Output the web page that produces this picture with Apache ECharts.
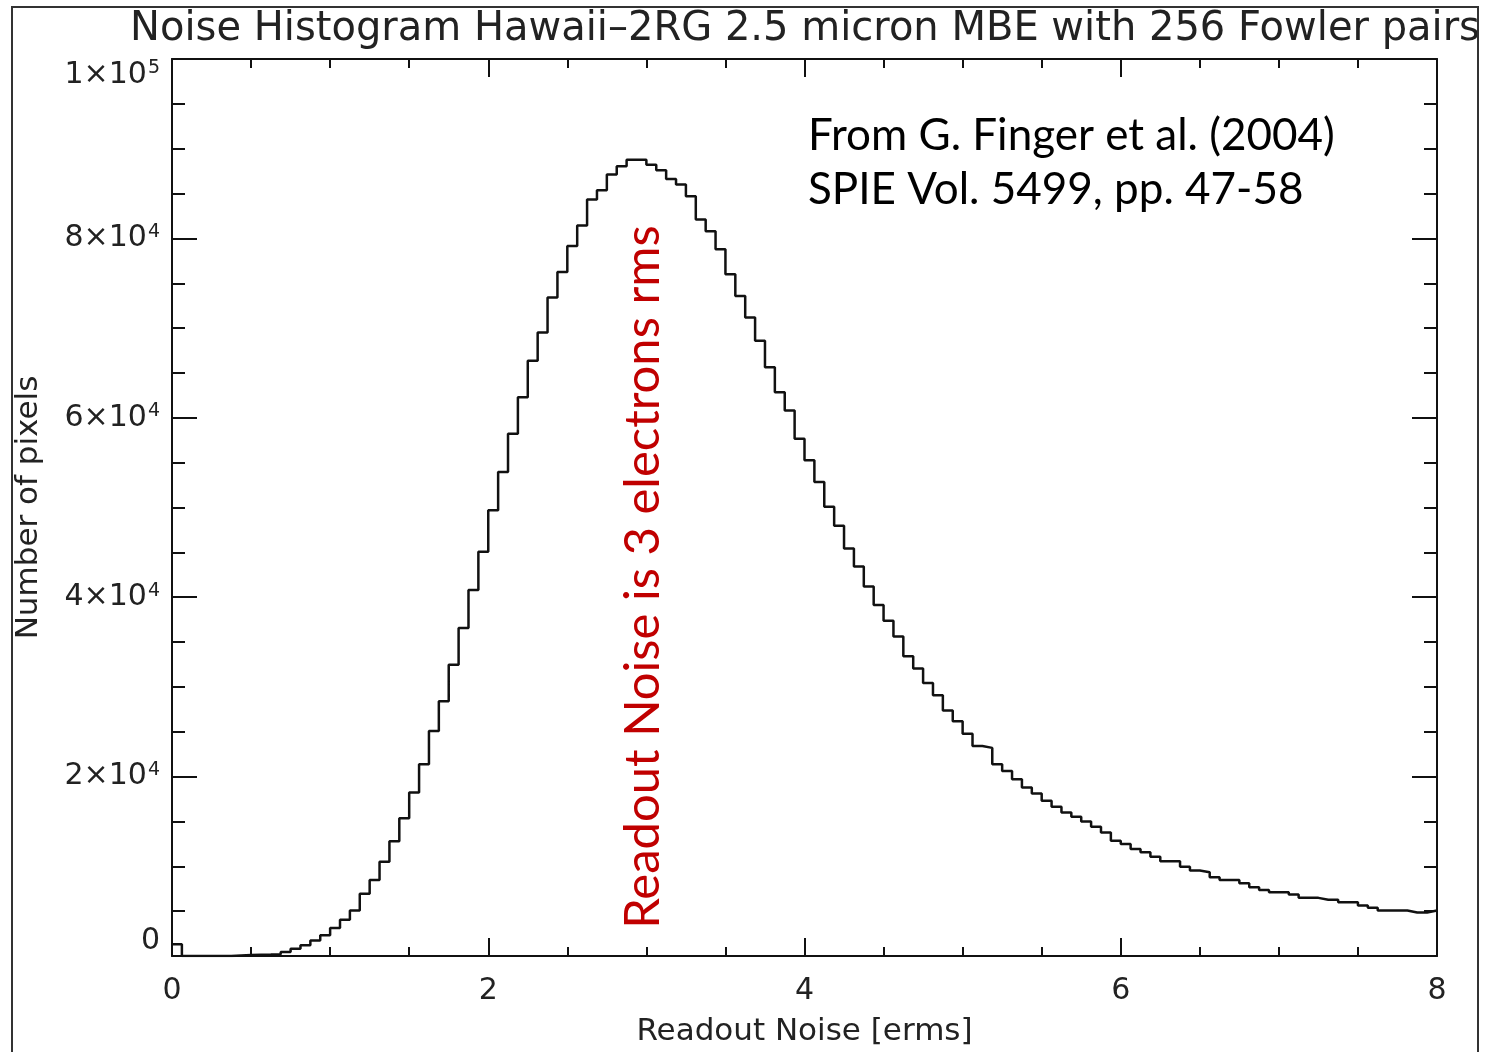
<!DOCTYPE html>
<html><head><meta charset="utf-8">
<script src="https://cdn.jsdelivr.net/npm/echarts@6/dist/echarts.min.js"></script>
<style>html,body{margin:0;padding:0;background:#fff}#c{width:1485px;height:1052px}</style>
</head><body><div id="c"></div>
<script>
// ---- data ----
const binStart = 0;          // erms, left edge of first bin
const binWidth = 0.0625;     // erms
const counts = [
  1300, 0, 0, 0, 0, 0, 60, 100, 130, 160,
  200, 440, 810, 1190, 1740, 2300, 3110, 4040, 5070, 6930,
  8480, 10520, 12780, 15370, 18220, 21370, 25070, 28410, 32480, 36560,
  40810, 45070, 49700, 53960, 58220, 62300, 66370, 69520, 73410, 76260,
  79150, 81440, 84330, 85370, 87110, 88040, 88780, 88780, 88220, 87590,
  86630, 86000, 84700, 82110, 80810, 78780, 76000, 73590, 71190, 68590,
  65630, 62850, 60810, 57670, 55260, 52850, 50080, 47960, 45440, 43410,
  41190, 39140, 37370, 35630, 33410, 32040, 30440, 29080, 27370, 26180,
  24770, 23410, 23200, 21370, 20630, 19700, 18780, 18110, 17300, 16630,
  16000, 15520, 15000, 14400, 13780, 12850, 12480, 11920, 11560, 11070,
  10560, 10560, 9960, 9520, 9330, 8780, 8480, 8480, 8110, 7670,
  7370, 7110, 7110, 6850, 6480, 6480, 6260, 6260, 6000, 6000,
  5630, 5370, 5070, 5070, 5070, 4850, 4850, 5070
];
const yTickValues = [0, 20000, 40000, 60000, 80000, 100000];
const yTickTexts = ['0', '2×10{sup|4}', '4×10{sup|4}', '6×10{sup|4}', '8×10{sup|4}', '1×10{sup|5}'];
const xTickValues = [0, 2, 4, 6, 8];
const titleText = 'Noise Histogram Hawaii\u20132RG 2.5 micron MBE with 256 Fowler pairs';
const xName = 'Readout Noise [erms]';
const yName = 'Number of pixels';
const noteLines = ['From G. Finger et al. (2004)', 'SPIE Vol. 5499, pp. 47-58'];
const redNote = 'Readout Noise is 3 electrons rms';

// ---- build step data (left bin edges, plus closing point) ----
const stepData = counts.map((v, i) => [binStart + i * binWidth, v]);
stepData.push([binStart + counts.length * binWidth, counts[counts.length - 1]]);

const idlFont = 'DejaVu Sans';
const ink = '#222';

const chart = echarts.init(document.getElementById('c'), null, {renderer: 'canvas'});

const axisCommon = {
  axisLine: {show: true, onZero: false, lineStyle: {color: '#111', width: 2}},
  splitLine: {show: false},
};

chart.setOption({
  backgroundColor: '#fff',
  animation: false,
  title: {
    text: titleText,
    left: 800, top: 5, textAlign: 'center',
    textStyle: {fontFamily: idlFont, fontSize: 40, fontWeight: 'normal', color: ink}
  },
  grid: {left: 172, right: 48, top: 59, bottom: 93},
  xAxis: [
    Object.assign({
      type: 'value', position: 'bottom', min: 0, max: 8, interval: 2,
      axisTick: {show: true, inside: true, length: 18, lineStyle: {color: '#111', width: 2}},
      minorTick: {show: true, splitNumber: 4, length: 9, lineStyle: {color: '#111', width: 2}},
      axisLabel: {
        margin: 20, fontFamily: idlFont, fontSize: 30, color: ink,
        formatter: v => xTickValues.includes(v) ? String(v) : ''
      },
      name: xName, nameLocation: 'middle', nameGap: 60,
      nameTextStyle: {fontFamily: idlFont, fontSize: 31, color: ink}
    }, axisCommon),
    Object.assign({
      type: 'value', position: 'top', min: 0, max: 8, interval: 2,
      axisTick: {show: true, inside: true, length: 18, lineStyle: {color: '#111', width: 2}},
      minorTick: {show: true, splitNumber: 4, length: 9, lineStyle: {color: '#111', width: 2}},
      axisLabel: {show: false}
    }, axisCommon)
  ],
  yAxis: [
    Object.assign({
      type: 'value', position: 'left', min: 0, max: 100000, interval: 20000,
      axisTick: {show: true, inside: true, length: 25, lineStyle: {color: '#111', width: 2}},
      minorTick: {show: true, splitNumber: 4, length: 13, lineStyle: {color: '#111', width: 2}},
      axisLabel: {
        margin: 12, fontFamily: idlFont, fontSize: 30, color: ink,
        verticalAlignMinLabel: 'bottom', verticalAlignMaxLabel: 'top',
        formatter: v => { const i = yTickValues.indexOf(v); return i >= 0 ? yTickTexts[i] : ''; },
        rich: {sup: {fontFamily: idlFont, fontSize: 19, color: ink, verticalAlign: 'top', padding: [0, 0, 13, 1]}}
      },
      name: yName, nameLocation: 'middle', nameGap: 128, nameRotate: 90,
      nameTextStyle: {fontFamily: idlFont, fontSize: 31, color: ink}
    }, axisCommon),
    Object.assign({
      type: 'value', position: 'right', min: 0, max: 100000, interval: 20000,
      axisTick: {show: true, inside: true, length: 25, lineStyle: {color: '#111', width: 2}},
      minorTick: {show: true, splitNumber: 4, length: 13, lineStyle: {color: '#111', width: 2}},
      axisLabel: {show: false}
    }, axisCommon)
  ],
  series: [{
    type: 'line',
    xAxisIndex: 0, yAxisIndex: 0,
    step: 'end',
    data: stepData,
    showSymbol: false,
    symbol: 'none',
    lineStyle: {color: '#111', width: 2.5},
    z: 3
  }],
  graphic: [
    {type: 'rect', shape: {x: 12, y: 7, width: 1466, height: 1060},
     style: {fill: null, stroke: '#333', lineWidth: 2}, silent: true, z: 10},
    {type: 'text', left: 808, top: 109,
     style: {text: noteLines.join('\n'), fontFamily: 'Lato', fontSize: 44, lineHeight: 54, fill: '#000'}},
    {type: 'text', x: 643, y: 577, rotation: Math.PI / 2,
     style: {text: redNote, fontFamily: 'Lato', fontSize: 49, fill: '#C00000', align: 'center', verticalAlign: 'middle'}}
  ]
});
</script>
</body></html>
